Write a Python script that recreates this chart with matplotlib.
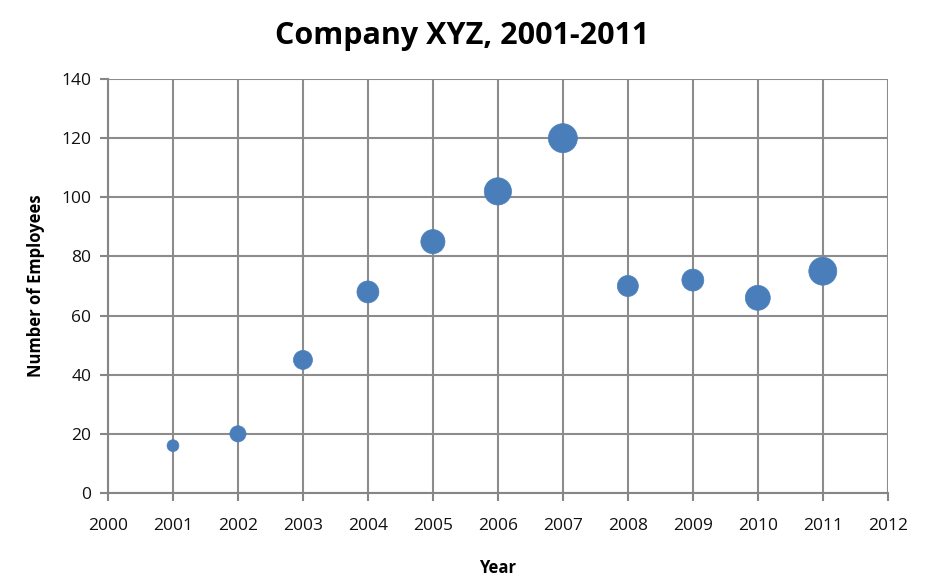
import matplotlib
matplotlib.use("Agg")

import matplotlib.pyplot as plt
import numpy as np

# data
years = [2001, 2002, 2003, 2004, 2005, 2006, 2007, 2008, 2009, 2010, 2011]
employees = [16, 20, 45, 68, 85, 102, 120, 70, 72, 66, 75]
# bubble size value (area-proportional, as Excel bubble charts do)
bubble_value = [14, 26, 36, 48, 58, 74, 84, 44, 48, 62, 78]

x_ticks = list(range(2000, 2013))
y_ticks = list(range(0, 141, 20))

plt.rcParams["font.family"] = ["Open Sans", "DejaVu Sans"]

fig = plt.figure(figsize=(9.35, 5.88), dpi=100)
ax = fig.add_axes([0.1155, 0.1616, 0.834, 0.704])

# scale bubble values to marker area in points^2
sizes = np.array(bubble_value, dtype=float) * 5.2
ax.scatter(years, employees, s=sizes, color="#4a7ebb", edgecolors="#4a7ebb",
           linewidths=0.5, zorder=3, clip_on=False)

ax.set_xlim(2000, 2012)
ax.set_ylim(0, 140)
ax.set_xticks(x_ticks)
ax.set_yticks(y_ticks)
ax.tick_params(axis="both", colors="#868686", labelcolor="#111111", labelsize=12.5,
               length=6, width=1.5, direction="out")
ax.tick_params(axis="x", pad=12)
ax.tick_params(axis="y", pad=6)

ax.grid(True, color="#8c8c8c", linewidth=1.5)
ax.set_axisbelow(True)
for side in ["top", "right"]:
    ax.spines[side].set_visible(False)
for side in ["left", "bottom"]:
    ax.spines[side].set_color("#868686")
    ax.spines[side].set_linewidth(1.5)

fig.suptitle("Company XYZ, 2001-2011", x=0.494, y=0.965, fontsize=22, fontweight="bold")
ax.set_xlabel("Year", fontsize=12, fontweight="bold", labelpad=18)
ax.set_ylabel("Number of Employees", fontsize=12, fontweight="bold", labelpad=12)

fig.savefig("out.png", dpi=100)
plt.close(fig)
